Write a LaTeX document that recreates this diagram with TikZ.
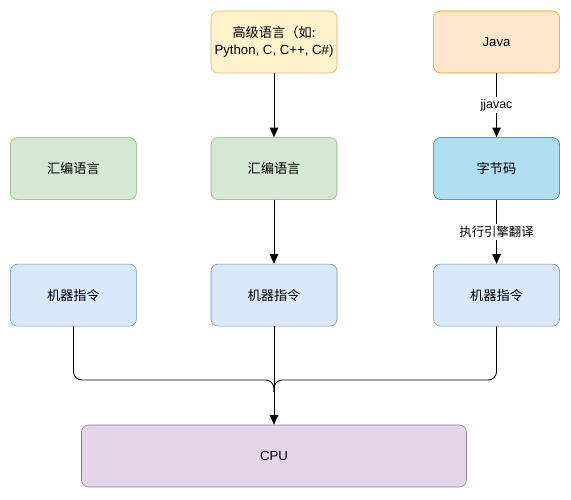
\documentclass[tikz,border=0pt]{standalone}
\usepackage{fontspec}
\setmainfont{Liberation Sans}
\newfontfamily\cjk{Noto Sans CJK SC}
\usepackage{tikz}
\usetikzlibrary{arrows.meta, positioning}

\definecolor{yellowFill}{HTML}{FFF2CC}
\definecolor{yellowLine}{HTML}{D6B656}
\definecolor{orangeFill}{HTML}{FFE6CC}
\definecolor{orangeLine}{HTML}{D79B00}
\definecolor{greenFill}{HTML}{D5E8D4}
\definecolor{greenLine}{HTML}{82B366}
\definecolor{blueFill}{HTML}{DAE8FC}
\definecolor{blueLine}{HTML}{6C8EBF}
\definecolor{cyanFill}{HTML}{B1DDF0}
\definecolor{cyanLine}{HTML}{10739E}
\definecolor{purpleFill}{HTML}{E1D5E7}
\definecolor{purpleLine}{HTML}{9673A6}

\begin{document}
\begin{tikzpicture}[
        font=\fontsize{9.4}{12}\selectfont,
        block/.style={
          rectangle,
          draw,
          align=center,
          rounded corners=5pt,
          minimum width=3.15cm,
          minimum height=1.55cm,
          inner sep=2pt
        },
        highBox/.style={block, fill=yellowFill, draw=yellowLine},
        javaBox/.style={block, fill=orangeFill, draw=orangeLine},
        asmBox/.style={block, fill=greenFill, draw=greenLine},
        codeBox/.style={block, fill=cyanFill, draw=cyanLine},
        machBox/.style={block, fill=blueFill, draw=blueLine},
        cpuBox/.style={block, fill=purpleFill, draw=purpleLine, minimum width=9.625cm},
        line/.style={-{Triangle[length=2.4mm, width=2.1mm]}, semithick},
        edgeLabel/.style={fill=white, inner sep=1.5pt, font=\fontsize{8.8}{11}\selectfont}
    ]
    \useasboundingbox (0,0) rectangle (14.275,-12.5);

    % Define the nodes
    \node[highBox] (high) at (6.85,-1.05) {\cjk 高级语言（如:\\Python, C, C++, C\#)};
    \node[asmBox, below=1.6cm of high] (asmMid) {\cjk 汇编语言};
    \node[machBox, below=1.6cm of asmMid] (machMid) {\cjk 机器指令};
    \node[asmBox, left=1.85cm of asmMid] (asmLeft) {\cjk 汇编语言};
    \node[machBox, left=1.85cm of machMid] (machLeft) {\cjk 机器指令};
    \node[codeBox, right=2.4cm of asmMid] (bytecode) {\cjk 字节码};
    \node[javaBox] (java) at (bytecode |- high) {Java};
    \node[machBox, right=2.4cm of machMid] (machRight) {\cjk 机器指令};
    \node[cpuBox] (cpu) at (6.85,-11.4) {CPU};
    \coordinate (join) at (6.85,-9.5);

    % Connect the nodes
    \draw[line] (high) -- (asmMid);
    \draw[line] (asmMid) -- (machMid);
    \draw[line] (java) -- node[edgeLabel] {jjavac} (bytecode);
    \draw[line] (bytecode) -- node[edgeLabel] {\cjk 执行引擎翻译} (machRight);
    \draw[line] (machMid) -- (cpu);

    % Merge into the CPU
    \draw[semithick, rounded corners=6pt] (machLeft.south) |- (join) -- ++(0,-0.3);
    \draw[semithick, rounded corners=6pt] (machRight.south) |- (join) -- ++(0,-0.3);

\end{tikzpicture}
\end{document}
